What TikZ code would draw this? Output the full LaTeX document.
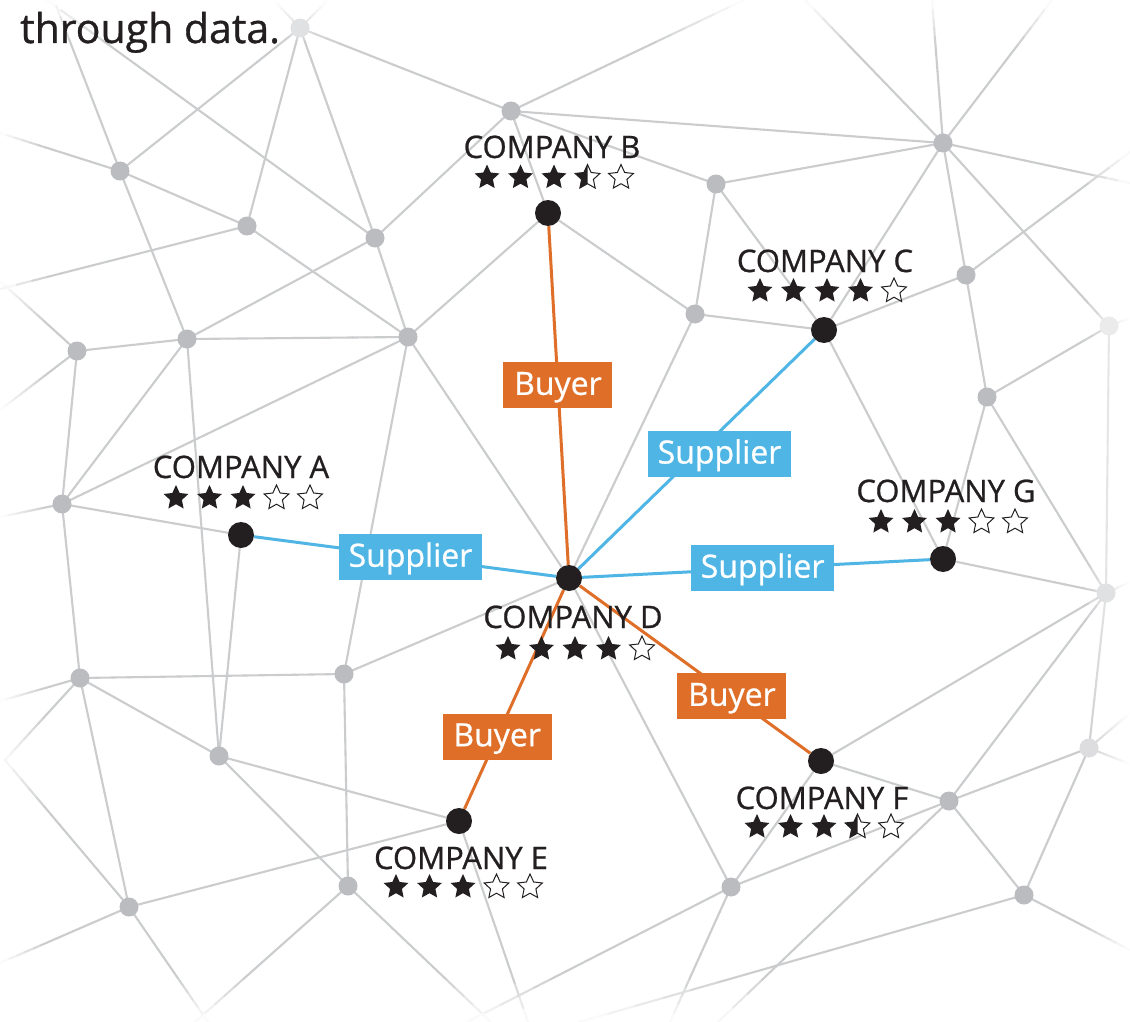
\documentclass[tikz,border=0pt]{standalone}
\usepackage{fontspec}
\setmainfont{Open Sans}
\newfontfamily\medsans{Open Sans}[FakeBold=0.8]
\usetikzlibrary{calc}
\definecolor{blk}{HTML}{231F20}
\definecolor{edgec}{HTML}{CBCCCE}
\definecolor{nodec}{HTML}{BBBCC0}
\definecolor{supc}{HTML}{4FB5E5}
\definecolor{buyc}{HTML}{DE6E28}
\newcommand\compfont{\medsans\fontsize{31}{31}\selectfont}
\newcommand\labfont{\medsans\fontsize{32}{32}\selectfont}
\newcommand\titlefont{\medsans\fontsize{41}{42}\selectfont}
\newcommand\starP{(-90:13) -- (-54:6.2) -- (-18:13) -- (18:6.2) -- (54:13) -- (90:6.2) -- (126:13) -- (162:6.2) -- (198:13) -- (234:6.2) -- cycle}
\pgfdeclarelayer{paper}
\pgfdeclarelayer{net}
\pgfdeclarelayer{links}
\pgfsetlayers{paper,net,links,main}
\tikzset{
  gnode/.style={circle, fill=nodec, minimum size=19pt, inner sep=0pt},
  bnode/.style={circle, fill=blk, minimum size=26pt, inner sep=0pt},
  edge/.style={line width=2.1pt, line cap=round},
  supline/.style={draw=supc, line width=3pt},
  buyline/.style={draw=buyc, line width=3pt},
  boxlab/.style={text=white, font=\labfont, inner sep=0pt, minimum height=46pt, text height=22pt, text depth=3pt},
  suplab/.style={boxlab, fill=supc, minimum width=143pt},
  buylab/.style={boxlab, fill=buyc, minimum width=109pt},
  comp/.style={font=\compfont, text=blk, anchor=base, inner sep=0pt},
  starF/.pic={\fill[blk] \starP;},
  starE/.pic={\draw[blk, line width=1pt, fill=white] \starP;},
  starH/.pic={\draw[blk, line width=1pt, fill=white] \starP; \clip (-14,-14) rectangle (0,14); \fill[blk] \starP;},
}
\newcommand\rating[3]{%
  \foreach \t [count=\k from -2] in {#3}{%
    \ifcase\t\relax
      \pic at ({#1+\k*33.5},#2) {starF};%
    \or
      \pic at ({#1+\k*33.5},#2) {starH};%
    \else
      \pic at ({#1+\k*33.5},#2) {starE};%
    \fi
  }%
}
\newcommand\fedge[2]{%
  \path (#1); \pgfgetlastxy{\ax}{\ay}%
  \path (#2); \pgfgetlastxy{\bx}{\by}%
  \foreach \k in {0,...,15}{%
    \pgfmathsetmacro\xa{\ax+(\bx-\ax)*(\k/16)}%
    \pgfmathsetmacro\ya{\ay+(\by-\ay)*(\k/16)}%
    \pgfmathsetmacro\xb{\ax+(\bx-\ax)*((\k+1)/16)}%
    \pgfmathsetmacro\yb{\ay+(\by-\ay)*((\k+1)/16)}%
    \pgfmathsetmacro\xm{0.5*\xa+0.5*\xb}%
    \pgfmathsetmacro\ym{-0.5*\ya-0.5*\yb}%
    \pgfmathsetmacro\ff{max(0,min(100,min(\xm,1130-\xm,\ym,1022-\ym)/0.45))}%
    \draw[edge, draw=edgec!\ff!white] (\xa pt,\ya pt) -- (\xb pt,\yb pt);%
  }%
}
\begin{document}
\begin{tikzpicture}[x=1pt,y=-1pt]
\useasboundingbox (0,0) rectangle (1130,1022);
\begin{pgfonlayer}{paper}
\fill[white] (0,0) rectangle (1130,1022);
\end{pgfonlayer}

% gray network nodes
\node[gnode, fill=nodec!45!white] (g1) at (300,28) {};
\node[gnode] (g2) at (511,111) {};
\node[gnode] (g3) at (120,171) {};
\node[gnode] (g4) at (247,226) {};
\node[gnode] (g5) at (375,238) {};
\node[gnode] (g6) at (187,339) {};
\node[gnode] (g7) at (408,337) {};
\node[gnode] (g8) at (77,351) {};
\node[gnode] (g9) at (62,504) {};
\node[gnode] (g10) at (716,184) {};
\node[gnode] (g11) at (943,143) {};
\node[gnode] (g12) at (695,314) {};
\node[gnode] (g13) at (966,275) {};
\node[gnode, fill=nodec!30!white] (g14) at (1109,326) {};
\node[gnode] (g15) at (987,397) {};
\node[gnode, fill=nodec!45!white] (g16) at (1106,593) {};
\node[gnode] (g17) at (80,678) {};
\node[gnode] (g18) at (344,674) {};
\node[gnode] (g19) at (219,756) {};
\node[gnode] (g20) at (348,886) {};
\node[gnode] (g21) at (129,907) {};
\node[gnode] (g22) at (731,887) {};
\node[gnode] (g23) at (949,801) {};
\node[gnode, fill=nodec!50!white] (g24) at (1089,748) {};
\node[gnode] (g25) at (1024,895) {};

% companies
\node[bnode] (B) at (548,213) {};
\node[bnode] (C) at (824,330) {};
\node[bnode] (A) at (241,535) {};
\node[bnode] (D) at (569,578) {};
\node[bnode] (G) at (943,559) {};
\node[bnode] (F) at (821,761) {};
\node[bnode] (E) at (459,821) {};

% off-picture ends of the network lines
\coordinate (o1) at (270,-4);
\coordinate (o2) at (333,-5);
\coordinate (o3) at (40,-5);
\coordinate (o4) at (52,-5);
\coordinate (o5) at (0,133);
\coordinate (o6) at (0,289);
\coordinate (o7) at (0,281);
\coordinate (o8) at (0,410);
\coordinate (o9) at (0,517);
\coordinate (o10) at (0,701);
\coordinate (o11) at (5,760);
\coordinate (o12) at (0,963);
\coordinate (o13) at (208,1022);
\coordinate (o14) at (195,1022);
\coordinate (o15) at (491,1022);
\coordinate (o16) at (528,1022);
\coordinate (o17) at (467,1022);
\coordinate (o18) at (670,1022);
\coordinate (o19) at (579,1022);
\coordinate (o20) at (718,1022);
\coordinate (o21) at (1130,950);
\coordinate (o22) at (1130,713);
\coordinate (o23) at (1130,764);
\coordinate (o24) at (1130,582);
\coordinate (o25) at (1130,318);
\coordinate (o26) at (1130,152);
\coordinate (o27) at (1130,183);
\coordinate (o28) at (805,0);
\coordinate (o29) at (932,0);
\coordinate (o30) at (1052,0);
\coordinate (o31) at (744,0);

\begin{pgfonlayer}{net}
\foreach \a/\b in {g1/o1, g1/o2, g1/g3, g1/g4, g1/g5, g1/g2,
  o3/g5, o4/g3, o5/g3, g3/g4, g3/g6, g4/g7, g4/o6,
  g5/g6, g5/g7, g5/g2, g2/B, g2/g10, g2/g11, g2/o31,
  g6/g7, g6/g8, g6/g9, g6/g19, g8/g9, g8/o7, g8/o8,
  g7/g9, g7/B, g7/g18, g7/D, g9/A, g9/g17, g9/o9,
  g10/g11, g10/g12, g10/C, g11/C, g11/g13, g11/g14, g11/o27, g11/o28, g11/o29, g11/o30,
  g12/B, g12/C, g12/D, g13/C, g13/g15, g13/o26,
  g15/g14, g15/G, g15/g16, g14/g16, g14/o25, C/G, G/g16,
  g16/F, g16/g23, g16/g24, g16/o24,
  g17/g18, g17/g19, g17/g21, g17/o10, g17/o11,
  g18/g20, g18/D, g19/A, g19/E, g19/g20, g20/o14, g20/o15,
  g21/E, g21/o11, g21/o12, g21/o13, E/o16, D/g22,
  F/g23, F/g22, g22/g23, g22/o17, g22/o18,
  g23/g25, g23/g24, g23/o20, g24/g25, g24/o22, g24/o23, g25/o19, g25/o21}
  {\fedge{\a}{\b}}
\end{pgfonlayer}

\begin{pgfonlayer}{links}
\draw[buyline] (B) -- node[buylab, pos=0.47] (l1) {Buyer} (D);
\draw[supline] (D) -- node[suplab, pos=0.5, xshift=23pt] (l2) {Supplier} (C);
\draw[supline] (A) -- node[suplab, pos=0.518] (l3) {Supplier} (D);
\draw[supline] (D) -- node[suplab, pos=0.519] (l4) {Supplier} (G);
\draw[buyline] (D) -- node[buylab, pos=0.66] (l5) {Buyer} (F);
\draw[buyline] (D) -- node[buylab, pos=0.67] (l6) {Buyer} (E);
\end{pgfonlayer}

% company labels
\node[comp] (tA) at (241,478) {COMPANY A};
\node[comp] (tB) at (552,158) {COMPANY B};
\node[comp] (tC) at (825,272) {COMPANY C};
\node[comp] (tD) at (573,628) {COMPANY D};
\node[comp] (tE) at (461,869) {COMPANY E};
\node[comp] (tF) at (822,809) {COMPANY F};
\node[comp] (tG) at (946,502) {COMPANY G};

\rating{243}{498}{0,0,0,2,2}
\rating{554}{177.5}{0,0,0,1,2}
\rating{827}{291}{0,0,0,0,2}
\rating{575}{649}{0,0,0,0,2}
\rating{463}{887}{0,0,0,2,2}
\rating{824}{827}{0,0,0,1,2}
\rating{948}{522}{0,0,0,2,2}

\node[anchor=base west, font=\titlefont, text=blk, inner sep=0pt] (title) at (20,43) {through data.};
\end{tikzpicture}
\end{document}
